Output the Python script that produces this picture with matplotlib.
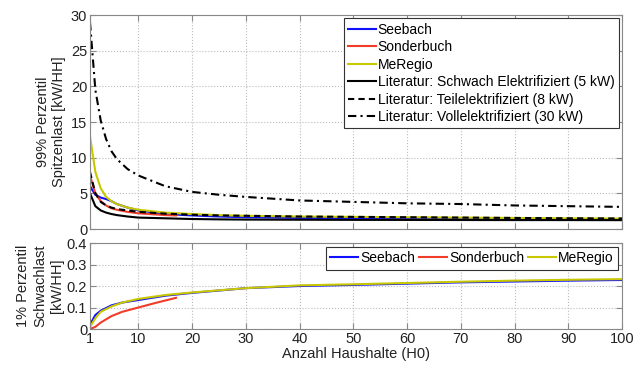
import numpy as np
import matplotlib.pyplot as plt

plt.rcParams['font.family'] = ['Liberation Sans', 'DejaVu Sans']

# x positions (Anzahl Haushalte)
x_top = [1, 2, 3, 4, 5, 6, 8, 10, 15, 20, 25, 30, 40, 50, 60, 70, 80, 90, 100]
x_son = [1, 2, 3, 4, 5, 6, 8, 10, 13, 15, 17]

# 99% Perzentil Spitzenlast [kW/HH]
seebach_peak = [6.0, 4.8, 4.4, 4.2, 3.9, 3.5, 3.0, 2.6, 2.1, 1.9, 1.75, 1.65, 1.55, 1.5, 1.45, 1.4, 1.35, 1.33, 1.3]
sonder_peak = [7.5, 5.0, 3.9, 3.3, 2.9, 2.7, 2.4, 2.2, 2.05, 1.95, 1.9]
meregio_peak = [13.0, 8.0, 5.7, 4.5, 3.9, 3.5, 3.0, 2.7, 2.3, 2.1, 1.95, 1.85, 1.75, 1.7, 1.65, 1.6, 1.55, 1.5, 1.45]
lit_5kw = [5.0, 3.2, 2.6, 2.3, 2.1, 1.95, 1.75, 1.6, 1.5, 1.4, 1.35, 1.32, 1.3, 1.28, 1.27, 1.26, 1.25, 1.25, 1.24]
lit_8kw = [8.0, 5.0, 3.8, 3.3, 3.0, 2.8, 2.6, 2.4, 2.15, 2.0, 1.9, 1.85, 1.75, 1.7, 1.65, 1.6, 1.55, 1.5, 1.48]
lit_30kw = [29.0, 19.5, 15.2, 12.6, 10.9, 9.8, 8.4, 7.5, 6.0, 5.2, 4.8, 4.5, 4.0, 3.8, 3.6, 3.5, 3.3, 3.2, 3.1]

# 1% Perzentil Schwachlast [kW/HH]
x_low = [1, 2, 3, 5, 7, 10, 15, 20, 30, 40, 50, 60, 70, 80, 90, 100]
seebach_low = [0.02, 0.065, 0.085, 0.11, 0.123, 0.135, 0.155, 0.168, 0.19, 0.2, 0.205, 0.211, 0.217, 0.221, 0.225, 0.228]
meregio_low = [0.01, 0.05, 0.08, 0.105, 0.123, 0.14, 0.158, 0.17, 0.19, 0.203, 0.208, 0.214, 0.22, 0.225, 0.229, 0.232]
x_son_low = [1, 2, 3, 5, 7, 10, 13, 17]
sonder_low = [0.0, 0.01, 0.03, 0.06, 0.08, 0.1, 0.12, 0.145]

blue = '#1010ff'
red = '#f03c28'
yellow = '#c8c800'
grey = '#888888'

fig = plt.figure(figsize=(6.4, 3.65), dpi=100)
ax1 = fig.add_axes([0.1406, 0.3726, 0.8313, 0.5863])
ax2 = fig.add_axes([0.1406, 0.0986, 0.8313, 0.2356])

ax1.plot(x_top, seebach_peak, color=blue, lw=1.5, label='Seebach')
ax1.plot(x_son, sonder_peak, color=red, lw=1.5, label='Sonderbuch')
ax1.plot(x_top, meregio_peak, color=yellow, lw=1.5, label='MeRegio')
ax1.plot(x_top, lit_5kw, color='black', lw=1.5, label='Literatur: Schwach Elektrifiziert (5 kW)')
ax1.plot(x_top, lit_8kw, color='black', lw=1.5, ls=(0, (3, 2)), label='Literatur: Teilelektrifiziert (8 kW)')
ax1.plot(x_top, lit_30kw, color='black', lw=1.5, ls=(0, (4, 2, 1, 2)), label='Literatur: Vollelektrifiziert (30 kW)')

ax2.plot(x_low, seebach_low, color=blue, lw=1.5, label='Seebach')
ax2.plot(x_son_low, sonder_low, color=red, lw=1.5, label='Sonderbuch')
ax2.plot(x_low, meregio_low, color=yellow, lw=1.5, label='MeRegio')

xticks = [1, 10, 20, 30, 40, 50, 60, 70, 80, 90, 100]
for ax in (ax1, ax2):
    ax.set_xlim(1, 100)
    ax.set_xticks(xticks)
    ax.grid(True, ls=':', color='#bbbbbb', lw=0.8)
    ax.tick_params(direction='in', top=True, right=True, color=grey, labelsize=10.5,
                   labelcolor='#222222', length=4, pad=2)
    for s in ax.spines.values():
        s.set_color(grey)

ax1.set_ylim(0, 30)
ax1.set_yticks([0, 5, 10, 15, 20, 25, 30])
ax1.set_xticklabels([])
ax2.set_ylim(0, 0.4)
ax2.set_yticks([0, 0.1, 0.2, 0.3, 0.4])
ax2.set_yticklabels(['0', '0.1', '0.2', '0.3', '0.4'])

ax1.set_ylabel('99% Perzentil\nSpitzenlast [kW/HH]', fontsize=10.5, color='#222222',
               linespacing=1.2)
ax1.yaxis.set_label_coords(-0.045, 0.5)
ax2.set_ylabel('1% Perzentil\nSchwachlast\n[kW/HH]', fontsize=10.5, color='#222222',
               linespacing=1.3)
ax2.yaxis.set_label_coords(-0.048, 0.5)
ax2.set_xlabel('Anzahl Haushalte (H0)', fontsize=10.5, color='#222222', labelpad=1)

leg1 = ax1.legend(loc='upper right', fontsize=10, handlelength=2.0, handletextpad=0.1,
                  labelspacing=0.25, borderpad=0.3, borderaxespad=0.25, fancybox=False,
                  framealpha=1, edgecolor='#333333')
leg1.get_frame().set_linewidth(0.8)
leg2 = ax2.legend(loc='upper right', ncol=3, fontsize=10, handlelength=2.0, handletextpad=0.15,
                  columnspacing=0.3, borderpad=0.3, borderaxespad=0.3, fancybox=False,
                  framealpha=1, edgecolor='#333333')
leg2.get_frame().set_linewidth(0.8)

fig.savefig('out.png', dpi=100)
